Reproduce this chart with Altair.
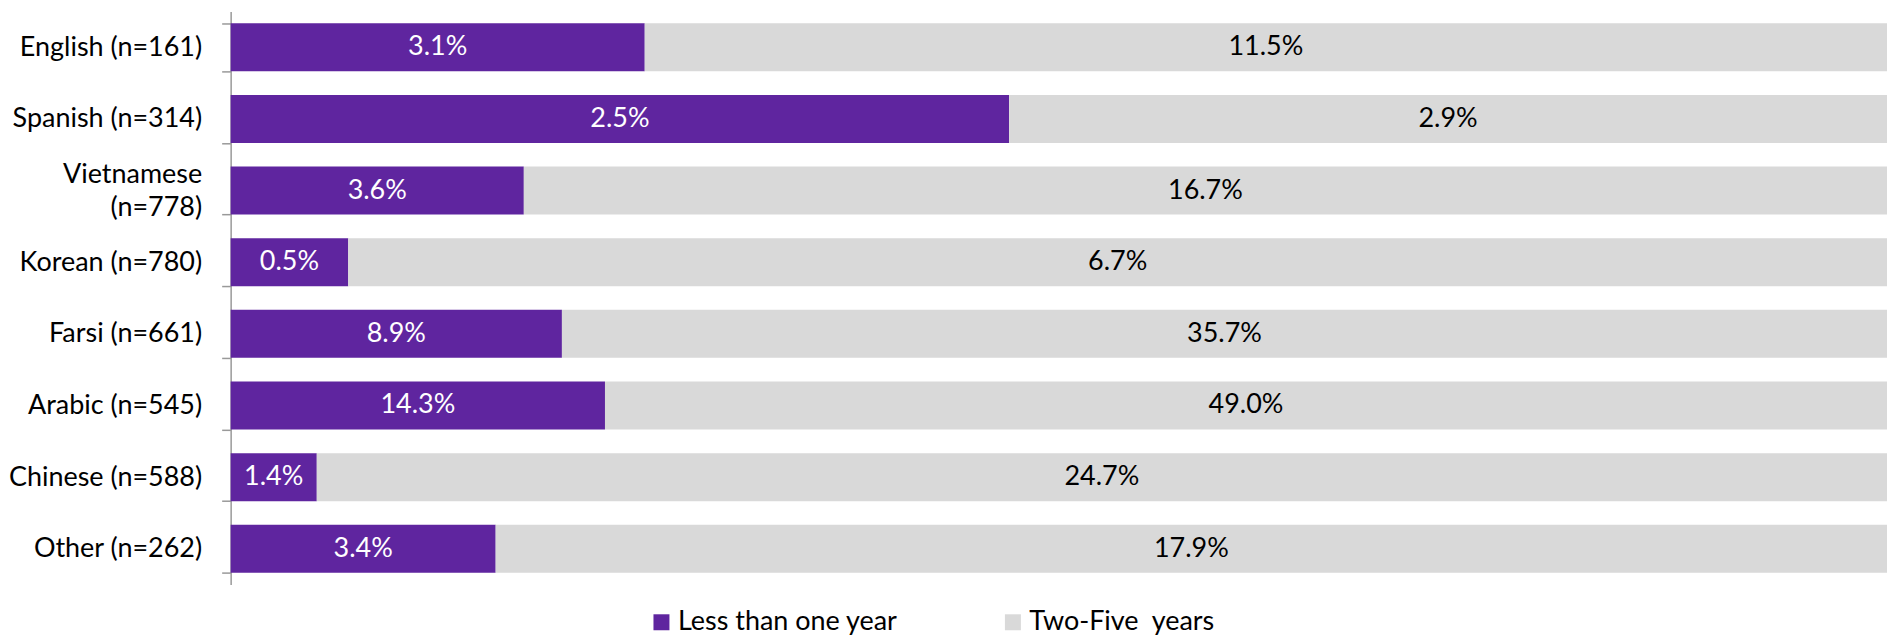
import altair as alt
import pandas as pd

languages = ["English (n=161)", "Spanish (n=314)", "Vietnamese (n=778)", "Korean (n=780)",
             "Farsi (n=661)", "Arabic (n=545)", "Chinese (n=588)", "Other (n=262)"]
series = ["Less than one year", "Two-Five\u00a0 years"]
less_share = [25.0, 47.0, 17.7, 7.1, 20.0, 22.6, 5.2, 16.0]
two_five_share = [75.0, 53.0, 82.3, 92.9, 80.0, 77.4, 94.8, 84.0]
less_label = ["3.1%", "2.5%", "3.6%", "0.5%", "8.9%", "14.3%", "1.4%", "3.4%"]
two_five_label = ["11.5%", "2.9%", "16.7%", "6.7%", "35.7%", "49.0%", "24.7%", "17.9%"]

PURPLE = "#5F259F"
GREY = "#D9D9D9"
FONT = "Lato"
FS = 27

rows = []
for i, lang in enumerate(languages):
    s0, s1 = less_share[i], two_five_share[i]
    rows.append(dict(language=lang, series=series[0], order=0, start=0, end=s0,
                     mid=s0 / 2, label=less_label[i], tcolor="white"))
    rows.append(dict(language=lang, series=series[1], order=1, start=s0, end=s0 + s1,
                     mid=s0 + s1 / 2, label=two_five_label[i], tcolor="black"))
df = pd.DataFrame(rows)

y_enc = alt.Y(
    "language:N", sort=languages, title=None,
    scale=alt.Scale(paddingInner=0.33, paddingOuter=0.165),
    axis=alt.Axis(
        labelFont=FONT, labelFontSize=FS, labelColor="black", labelPadding=20,
        labelLimit=400, labelLineHeight=33,
        labelExpr="datum.value == 'Vietnamese (n=778)' ? ['Vietnamese', '(n=778)'] : datum.label",
        labelOffset={"condition": {"test": "datum.value == 'Vietnamese (n=778)'", "value": -16},
                     "value": 0},
        domainColor="#999999", domainWidth=1.5, tickColor="#999999", tickWidth=1.5,
        tickSize=9, tickBand="extent", grid=False,
    ),
)
x_scale = alt.Scale(domain=[0, 100], nice=False, zero=True)

bars = alt.Chart(df).mark_bar().encode(
    y=y_enc,
    x=alt.X("start:Q", scale=x_scale, axis=None),
    x2="end:Q",
    color=alt.Color(
        "series:N",
        scale=alt.Scale(domain=series, range=[PURPLE, GREY]),
        legend=alt.Legend(
            title=None, orient="none", direction="horizontal", legendX=418, legendY=598,
            symbolType="square", symbolSize=256, symbolStrokeWidth=0,
            labelFont=FONT, labelFontSize=FS, labelColor="black", labelOffset=3,
            columnPadding=101, padding=0, labelLimit=400,
        ),
    ),
    order="order:Q",
)

texts = alt.Chart(df).mark_text(font=FONT, fontSize=FS, baseline="middle", align="center").encode(
    y=alt.Y("language:N", sort=languages),
    x=alt.X("mid:Q", scale=x_scale, axis=None),
    text="label:N",
    color=alt.Color("tcolor:N", scale=None, legend=None),
)

chart = (
    alt.layer(bars, texts)
    .resolve_scale(color="independent")
    .properties(
        width=1659, height=574,
        autosize=alt.AutoSizeParams(type="none"),
        padding={"left": 223, "top": 3, "right": 0, "bottom": 51},
    )
    .configure_view(stroke=None)
)

chart.save("out.html", embed_options={"renderer": "svg", "actions": False})
